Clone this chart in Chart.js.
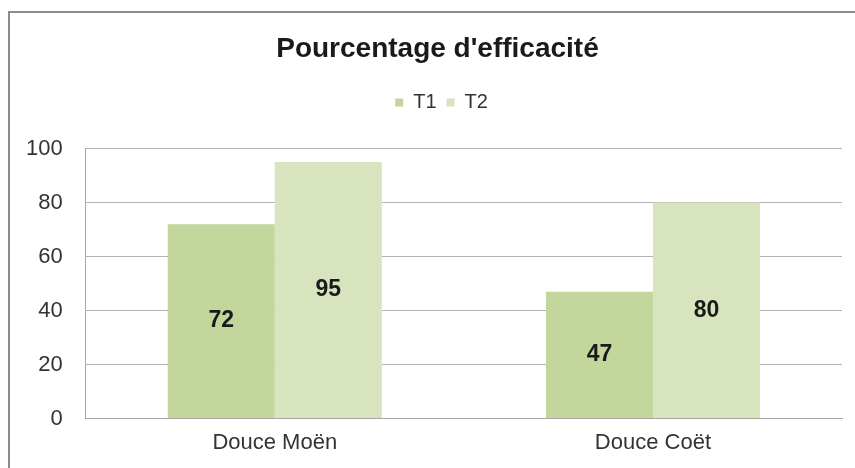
<!DOCTYPE html>
<html>
<head>
<meta charset="utf-8">
<script src="https://cdn.jsdelivr.net/npm/chart.js@4/dist/chart.umd.min.js"></script>
<style>
  html, body { margin: 0; padding: 0; background: #fff; overflow: hidden; }
  #wrap { position: relative; width: 855px; height: 468px; }
  #frame { position: absolute; left: 8px; top: 11px; width: 900px; height: 500px; border: 2px solid #8c8c8c; box-sizing: border-box; }
  canvas { position: absolute; left: 0; top: 0; }
</style>
</head>
<body>
<div id="wrap">
  <div id="frame"></div>
  <canvas id="barChart" width="855" height="468"></canvas>
</div>
<script>
// ==================== DATA ====================
const categories = ['Douce Moën', 'Douce Coët'];
const seriesNames = ['T1', 'T2'];
const t1Values = [72, 47];
const t2Values = [95, 80];
const yTicks = [0, 20, 40, 60, 80, 100];

const t1Color = '#c3d69b';
const t2Color = '#d7e4bd';
const fontFamily = '"Liberation Sans", Arial, sans-serif';

// labels drawn in the middle of each bar
const barLabels = {
    id: 'barLabels',
    afterDatasetsDraw(chart) {
        const ctx = chart.ctx;
        ctx.save();
        ctx.font = 'bold 23px ' + fontFamily;
        ctx.fillStyle = '#1a1a1a';
        ctx.textAlign = 'center';
        ctx.textBaseline = 'middle';
        chart.data.datasets.forEach((ds, i) => {
            chart.getDatasetMeta(i).data.forEach((bar, j) => {
                const mid = (bar.y + bar.base) / 2;
                ctx.fillText(String(ds.data[j]), bar.x, mid);
            });
        });
        ctx.restore();
    }
};

// extra space under the legend, and title/legend centred on the whole frame
const legendMargin = {
    id: 'legendMargin',
    beforeInit(chart) {
        const fit = chart.legend.fit;
        chart.legend.fit = function () {
            fit.bind(chart.legend)();
            this.height += 26;
        };
    },
    afterLayout(chart) {
        chart.titleBlock.left += 15;
        chart.titleBlock.right += 15;
        chart.legend.left += 19;
        chart.legend.right += 19;
    }
};

function loadChart() {
    const ctx = document.getElementById('barChart').getContext('2d');
    new Chart(ctx, {
        type: 'bar',
        data: {
            labels: categories,
            datasets: [
                { label: seriesNames[0], data: t1Values, backgroundColor: t1Color },
                { label: seriesNames[1], data: t2Values, backgroundColor: t2Color }
            ]
        },
        options: {
            responsive: false,
            animation: false,
            layout: { padding: { left: 3, right: 13, top: 32, bottom: 1 } },
            datasets: { bar: { barPercentage: 1, categoryPercentage: 0.566 } },
            plugins: {
                tooltip: { enabled: false },
                title: {
                    display: true,
                    text: "Pourcentage d'efficacité",
                    color: '#1a1a1a',
                    font: { family: fontFamily, size: 28, weight: 'bold' },
                    padding: { top: 0, bottom: 17 }
                },
                legend: {
                    position: 'top',
                    labels: {
                        boxWidth: 8,
                        boxHeight: 8,
                        padding: 10,
                        color: '#333',
                        font: { family: fontFamily, size: 20 }
                    }
                }
            },
            scales: {
                x: {
                    grid: { display: false, drawTicks: false },
                    border: { color: '#a6a6a6', width: 1 },
                    ticks: {
                        color: '#333',
                        padding: 11,
                        font: { family: fontFamily, size: 22 }
                    }
                },
                y: {
                    min: yTicks[0],
                    max: yTicks[yTicks.length - 1],
                    afterBuildTicks: (axis) => { axis.ticks = yTicks.map(v => ({ value: v })); },
                    grid: { color: '#b3b3b3', drawTicks: false },
                    border: { color: '#a6a6a6', width: 1 },
                    ticks: {
                        color: '#333',
                        padding: 23,
                        font: { family: fontFamily, size: 22 }
                    }
                }
            }
        },
        plugins: [barLabels, legendMargin]
    });
}
loadChart();
</script>
</body>
</html>
